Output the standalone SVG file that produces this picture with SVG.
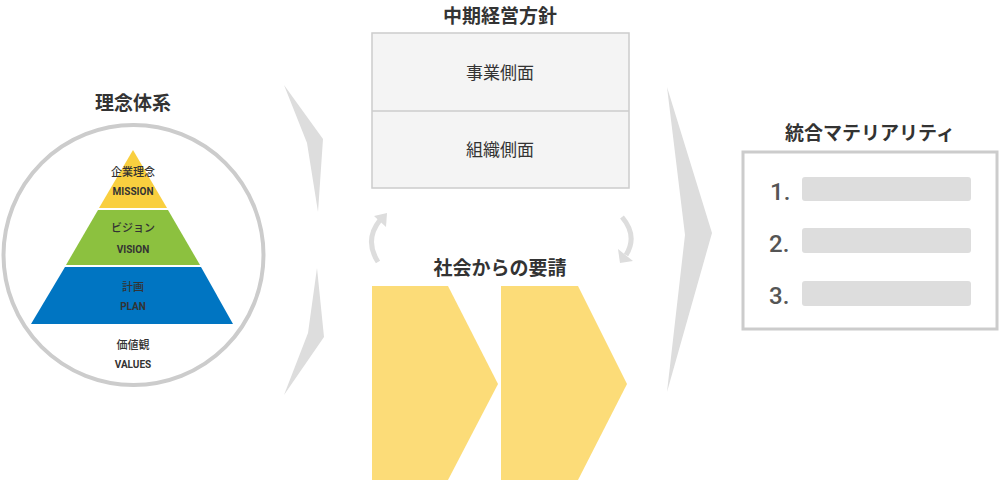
<svg xmlns="http://www.w3.org/2000/svg" width="1000" height="480" viewBox="0 0 1000 480">
<style>
.t{font-family:"Noto Sans CJK JP","Noto Sans",sans-serif;fill:#333;text-anchor:middle}
.h{font-size:19px;font-weight:bold}
.m{font-size:17px}
.s{font-size:11px;font-weight:500}
.e{font-family:Roboto,"Liberation Sans",sans-serif;font-size:10px;font-weight:bold;fill:#333;text-anchor:middle}
.n{font-family:Roboto,"Liberation Sans",sans-serif;font-size:24px;font-weight:500;fill:#555}
.g{fill:#dddddd}
.y{fill:#fcdc78}
.bar{fill:#dddddd}
</style>
<rect width="1000" height="480" fill="#ffffff"/>
<g id="rinen">
<text class="t h" x="133" y="110">理念体系</text>
<circle cx="133.5" cy="255" r="130" fill="#ffffff" stroke="#cccccc" stroke-width="4"/>
<polygon points="133,150 167,208 99,208" fill="#f9cf3f"/>
<polygon points="98,210 168,210 200,265 66,265" fill="#8cc13f"/>
<polygon points="65,267 201,267 233,324 31,324" fill="#0075c2"/>
<text class="t s" x="133" y="176">企業理念</text>
<text class="e" x="133" y="195">MISSION</text>
<text class="t s" x="133" y="232">ビジョン</text>
<text class="e" x="133" y="253">VISION</text>
<text class="t s" x="133" y="291">計画</text>
<text class="e" x="133" y="310">PLAN</text>
<text class="t s" x="133" y="349">価値観</text>
<text class="e" x="133" y="368">VALUES</text>
</g>
<g id="connectors">
<polygon class="g" points="284,85 323,139 318,212 307,143"/>
<polygon class="g" points="317,268 324,337 284,395 308,333"/>
<polygon class="g" points="667,87 712,233 667,392 685,235"/>
<path d="M 378 262 Q 364 240 380 220" fill="none" stroke="#dddddd" stroke-width="5"/>
<polygon class="g" points="374,216 387,213 386,227"/>
<path d="M 622 217 Q 638 236 626 255" fill="none" stroke="#dddddd" stroke-width="5"/>
<polygon class="g" points="618,249 620,263 633,261"/>
</g>
<g id="chuki">
<text class="t h" x="500" y="23">中期経営方針</text>
<rect x="372" y="33" width="257" height="155" fill="#f4f4f4" stroke="#cccccc" stroke-width="1.5"/>
<line x1="372" y1="111" x2="629" y2="111" stroke="#cccccc" stroke-width="1.5"/>
<text class="t m" x="500" y="79">事業側面</text>
<text class="t m" x="500" y="156">組織側面</text>
</g>
<g id="shakai">
<text class="t h" x="500" y="275">社会からの要請</text>
<polygon class="y" points="372,286 448,286 498,384 448,480 372,480"/>
<polygon class="y" points="501,286 578,286 627,384 578,480 501,480"/>
</g>
<g id="materiality">
<text class="t h" x="870" y="140">統合マテリアリティ</text>
<rect x="743" y="152" width="254" height="177" fill="#ffffff" stroke="#cccccc" stroke-width="3"/>
<rect class="bar" x="802" y="177" width="169" height="24" rx="3"/>
<rect class="bar" x="802" y="228" width="169" height="25" rx="3"/>
<rect class="bar" x="802" y="281" width="169" height="25" rx="3"/>
<text class="n" x="770" y="200">1.</text>
<text class="n" x="769" y="252">2.</text>
<text class="n" x="769" y="304">3.</text>
</g>
</svg>
